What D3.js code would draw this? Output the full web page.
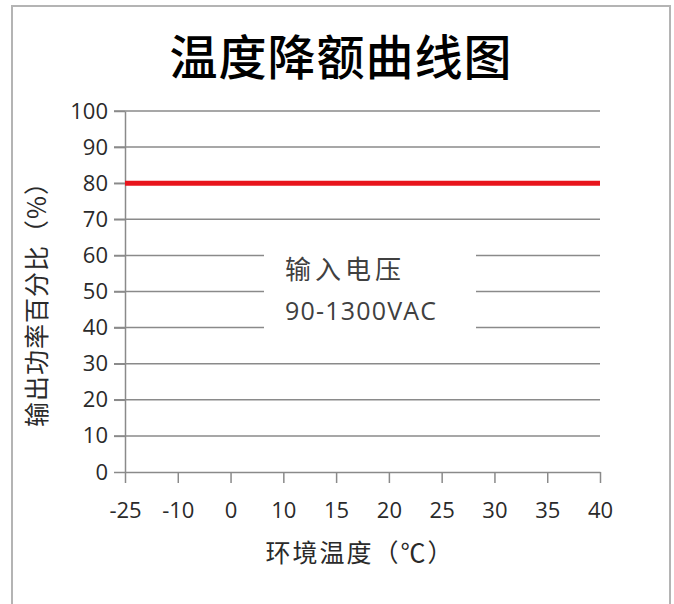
<!DOCTYPE html>
<html>
<head>
<meta charset="utf-8">
<script src="https://cdn.jsdelivr.net/npm/d3@7"></script>
<style>
  html, body { margin: 0; padding: 0; background: #fff; }
  svg { display: block; }
  text { font-family: "Noto Sans CJK SC", "Open Sans", sans-serif; }
</style>
</head>
<body>
<svg id="chart" width="674" height="604"></svg>
<script>
// chart data
const temperatures = ['-25', '-10', '0', '10', '15', '20', '25', '30', '35', '40'];
const outputPercent = [80, 80, 80, 80, 80, 80, 80, 80, 80, 80];
const yTicks = [0, 10, 20, 30, 40, 50, 60, 70, 80, 90, 100];

const title = '温度降额曲线图';
const xTitle = '环境温度（℃）';
const yTitle = '输出功率百分比（%）';
const noteLines = ['输入电压', '90-1300VAC'];

const svg = d3.select('#chart');

// outer frame
svg.append('rect')
  .attr('x', 12).attr('y', 6)
  .attr('width', 658).attr('height', 610)
  .attr('fill', 'none')
  .attr('stroke', '#b4b4b4')
  .attr('stroke-width', 2);

// PLOT AREA
const plotLeft = 125, plotRight = 600, plotTop = 111, plotBottom = 472;

const x = d3.scalePoint()
  .domain(temperatures)
  .range([plotLeft, plotRight])
  .padding(0);

const y = d3.scaleLinear()
  .domain([0, 100])
  .range([plotBottom, plotTop]);

// GUIDELINES
svg.append('g')
  .selectAll('line')
  .data(yTicks.filter(d => d > 0))
  .enter()
  .append('line')
  .attr('x1', plotLeft - 11)
  .attr('x2', plotRight)
  .attr('y1', d => y(d))
  .attr('y2', d => y(d))
  .attr('stroke', '#8a8a8a')
  .attr('stroke-width', 1.5);

// Y AXIS
const yAxis = d3.axisLeft(y)
  .tickValues(yTicks)
  .tickSize(11)
  .tickSizeOuter(0)
  .tickPadding(6);

const gy = svg.append('g')
  .attr('transform', `translate(${plotLeft},0)`)
  .call(yAxis);
gy.select('.domain').attr('stroke', '#8a8a8a').attr('stroke-width', 1.5);
gy.selectAll('.tick line').attr('stroke', '#8a8a8a').attr('stroke-width', 1.5);
gy.selectAll('.tick text')
  .attr('fill', '#2a2a2a')
  .style('font-family', '"Open Sans", sans-serif')
  .style('font-size', '22px');

// X AXIS
const xAxis = d3.axisBottom(x)
  .tickSize(11)
  .tickSizeOuter(0)
  .tickPadding(19);

const gx = svg.append('g')
  .attr('transform', `translate(0,${plotBottom})`)
  .call(xAxis);
gx.select('.domain').attr('stroke', '#8a8a8a').attr('stroke-width', 1.5);
gx.selectAll('.tick line').attr('stroke', '#8a8a8a').attr('stroke-width', 1.5);
gx.selectAll('.tick text')
  .attr('fill', '#2a2a2a')
  .style('font-family', '"Open Sans", sans-serif')
  .style('font-size', '22px');

// ANNOTATION BOX
svg.append('rect')
  .attr('x', 264).attr('y', 236)
  .attr('width', 212).attr('height', 108)
  .attr('fill', '#fff');

svg.append('g')
  .selectAll('text')
  .data(noteLines)
  .enter()
  .append('text')
  .attr('x', 285)
  .attr('y', (d, i) => i === 0 ? 279 : 320)
  .attr('fill', '#404040')
  .style('font-size', (d, i) => i === 0 ? '26px' : '25px')
  .style('letter-spacing', (d, i) => i === 0 ? '4px' : '1.2px')
  .style('font-family', (d, i) => i === 0 ? '"Noto Sans CJK SC", sans-serif' : '"Open Sans", sans-serif')
  .text(d => d);

// DATA LINE
const line = d3.line()
  .x((d, i) => x(temperatures[i]))
  .y(d => y(d));

svg.append('path')
  .datum(outputPercent)
  .attr('d', line)
  .attr('fill', 'none')
  .attr('stroke', '#e8141c')
  .attr('stroke-width', 5);

// TITLES
svg.append('text')
  .attr('x', 341).attr('y', 75)
  .attr('text-anchor', 'middle')
  .attr('fill', '#000')
  .style('font-size', '48px')
  .style('font-weight', '500')
  .style('letter-spacing', '1px')
  .text(title);

svg.append('text')
  .attr('x', 360).attr('y', 562)
  .attr('text-anchor', 'middle')
  .attr('fill', '#2a2a2a')
  .style('font-size', '25px')
  .style('letter-spacing', '2px')
  .text(xTitle);

svg.append('text')
  .attr('transform', 'translate(46,298) rotate(-90)')
  .attr('text-anchor', 'middle')
  .attr('fill', '#2a2a2a')
  .style('font-size', '25px')
  .style('letter-spacing', '1px')
  .text(yTitle);
</script>
</body>
</html>
